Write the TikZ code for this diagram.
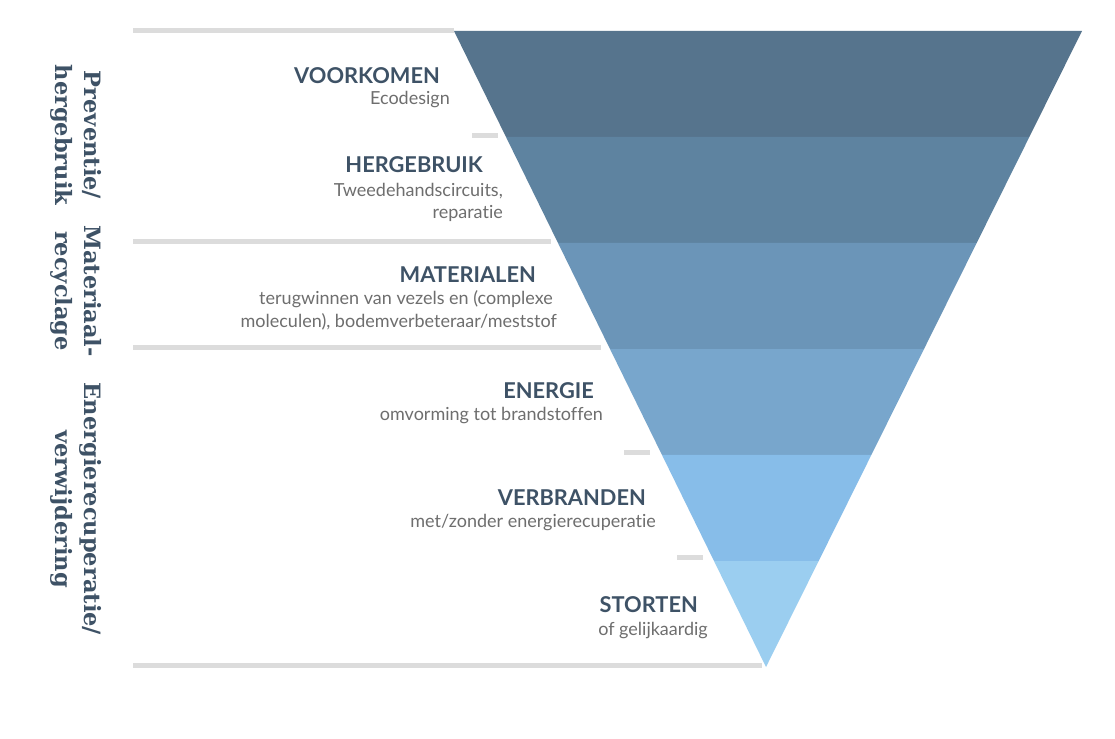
\documentclass[tikz,border=0pt]{standalone}
\usepackage{fontspec}
\setmainfont{Lato}[Ligatures={NoCommon,NoRare}]
\newfontfamily\slab{DejaVu Serif}
\usetikzlibrary{calc}
\definecolor{bA}{HTML}{56748D}
\definecolor{bB}{HTML}{5E83A0}
\definecolor{bC}{HTML}{6B95B8}
\definecolor{bD}{HTML}{78A6CC}
\definecolor{bE}{HTML}{87BDE9}
\definecolor{bF}{HTML}{9BCEF0}
\definecolor{titlecol}{HTML}{3E5266}
\definecolor{subcol}{HTML}{6E6E6E}
\definecolor{rulecol}{HTML}{DCDCDC}
\begin{document}
\begin{tikzpicture}[x=1pt,y=-1pt,
  title/.style={font=\fontsize{21.8}{26}\selectfont\bfseries, text=titlecol, anchor=base east, inner sep=0pt},
  sub/.style={font=\fontsize{18}{22}\selectfont, text=subcol, anchor=base east, inner sep=0pt},
  side/.style={font=\slab\bfseries\fontsize{22.5}{29}\selectfont, text=titlecol, rotate=-90, align=center, inner sep=0pt},
  rulel/.style={draw=rulecol, line width=5pt}]
\useasboundingbox (0,0) rectangle (1115,738);
\fill[white] (0,0) rectangle (1115,738);
\coordinate (L) at (454,31);
\coordinate (R) at (1082,31);
\coordinate (A) at (766,667);
\foreach \i/\c in {0/bA,1/bB,2/bC,3/bD,4/bE,5/bF}{
  \fill[\c] ($(L)!{\i/6}!(A)$) -- ($(R)!{\i/6}!(A)$) -- ($(R)!{(\i+1)/6}!(A)$) -- ($(L)!{(\i+1)/6}!(A)$) -- cycle;
}
% grey rules
\coordinate (r0a) at (133,31);
\draw[rulel] (r0a) -- (L);
\coordinate (r2a) at (133,241); \coordinate (r2b) at (551,241);
\draw[rulel] (r2a) -- (r2b);
\coordinate (r3a) at (133,347); \coordinate (r3b) at (601,347);
\draw[rulel] (r3a) -- (r3b);
\coordinate (r6a) at (133,665); \coordinate (r6b) at (762,665);
\draw[rulel] (r6a) -- (r6b);
\coordinate (d1a) at (472,136); \coordinate (d1b) at (498,136);
\draw[rulel] (d1a) -- (d1b);
\coordinate (d4a) at (624,452); \coordinate (d4b) at (650,452);
\draw[rulel] (d4a) -- (d4b);
\coordinate (d5a) at (677,557); \coordinate (d5b) at (703,557);
\draw[rulel] (d5a) -- (d5b);
% titles
\node[title] (t1) at (440,84) {VOORKOMEN};
\node[sub] (s1) at (450,105) {Ecodesign};
\node[title] (t2) at (483,172) {HERGEBRUIK};
\node[sub] (s2a) at (503,196) {Tweedehandscircuits,};
\node[sub] (s2b) at (503,218) {reparatie};
\node[title] (t3) at (536,282) {MATERIALEN};
\node[sub] (s3a) at (553,304) {terugwinnen van vezels en (complexe};
\node[sub] (s3b) at (557,327) {moleculen), bodemverbeteraar/meststof};
\node[title] (t4) at (594,398) {ENERGIE};
\node[sub] (s4) at (603,420) {omvorming tot brandstoffen};
\node[title] (t5) at (646,505) {VERBRANDEN};
\node[sub] (s5) at (656,527) {met/zonder energierecuperatie};
\node[title] (t6) at (698,612) {STORTEN};
\node[sub] (s6) at (708,635) {of gelijkaardig};
% side labels
\node[side] (g1) at (76,135) {Preventie/\\hergebruik};
\node[side] (g2) at (76,291) {Materiaal-\\recyclage};
\node[side] (g3) at (76,509) {Energierecuperatie/\\verwijdering};
\end{tikzpicture}
\end{document}
